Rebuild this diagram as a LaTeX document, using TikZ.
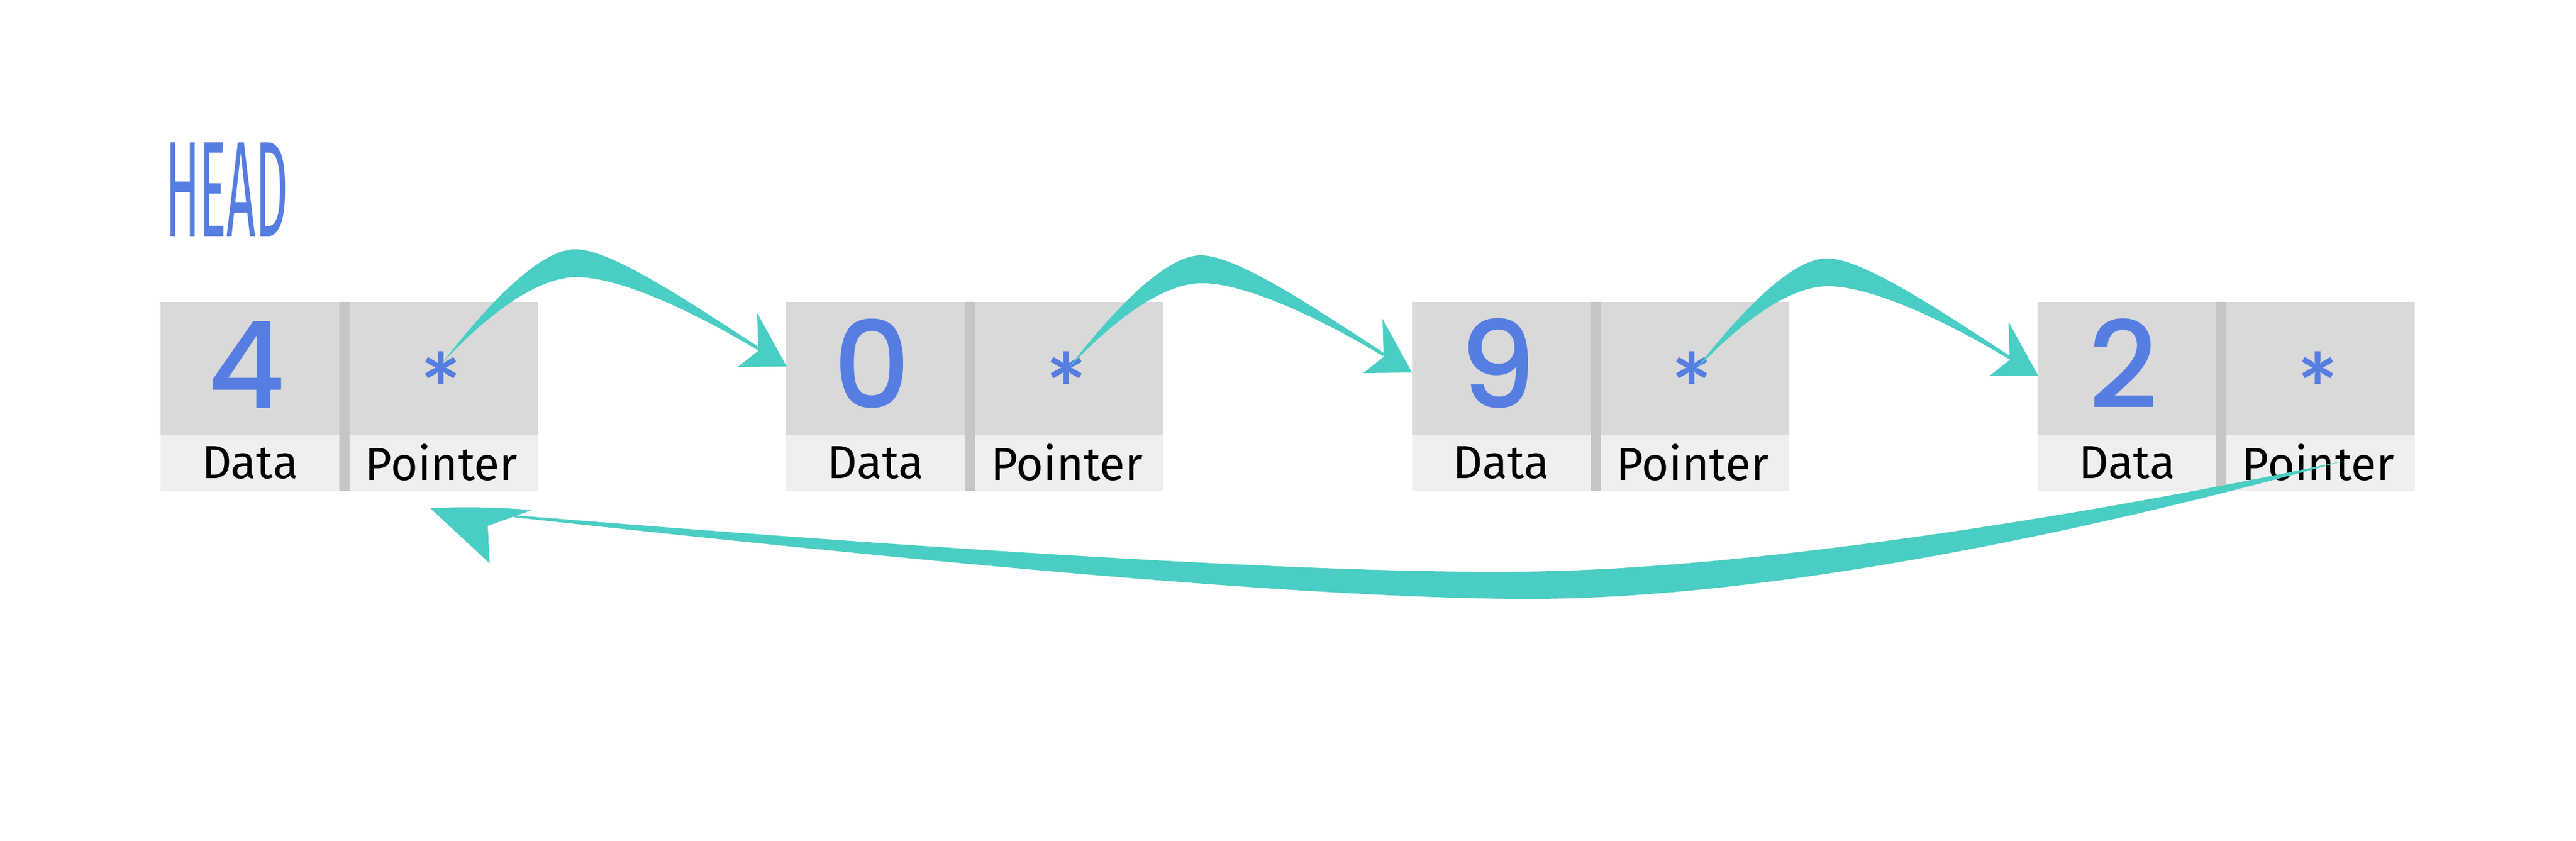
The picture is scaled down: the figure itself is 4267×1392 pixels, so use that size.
\documentclass[tikz,border=0pt]{standalone}
\usepackage{fontspec}
\setmainfont{Fira Sans}
\newfontfamily\digfont{Poppins Medium}
\newfontfamily\headfont{Fira Sans}
\newfontfamily\astfont{Lato}
\definecolor{cellgray}{RGB}{217,217,217}
\definecolor{celllight}{RGB}{239,239,239}
\definecolor{sepgray}{RGB}{198,198,198}
\definecolor{numblue}{RGB}{86,125,225}
\definecolor{arrowteal}{RGB}{74,205,196}
\tikzset{
  cellbox/.style={draw=none, inner sep=0pt, outer sep=0pt, anchor=north west},
  celltop/.style={cellbox, fill=cellgray, minimum height=221pt},
  cellbot/.style={cellbox, fill=celllight, minimum height=92pt},
  sepbar/.style={cellbox, fill=sepgray, minimum width=17pt, minimum height=313pt},
  digit/.style={inner sep=0pt, anchor=base, text=numblue, font=\digfont\fontsize{200}{200}\selectfont},
  lbl/.style={inner sep=0pt, anchor=base, text=black, font=\fontsize{77}{77}\selectfont},
  ast/.style={inner sep=0pt, anchor=base, text=numblue, font=\astfont\bfseries\fontsize{160}{160}\selectfont},
  linkfill/.style={fill=arrowteal, draw=none}
}
\newcommand\linkarrow[1]{%
  \fill[linkfill, shift={(#1)}] (0,0) .. controls (70,-90) and (160,-190) .. (222,-190)
     .. controls (280,-190) and (400,-110) .. (526,-28) -- (524,-23)
     .. controls (430,-80) and (300,-144) .. (224,-144)
     .. controls (150,-144) and (60,-65) .. (0,0) -- cycle;
  \fill[linkfill, shift={(#1)}] (523,-85) -- (572,4) -- (491,5) -- (525,-22) -- cycle;
}
\begin{document}
\begin{tikzpicture}[x=1pt,y=-1pt]
\useasboundingbox (0,0) rectangle (4267,1392);
\fill[white] (0,0) rectangle (4267,1392);

\node[inner sep=0pt, anchor=north west, text=numblue] (head) at (274,236)
  {\resizebox{203pt}{155pt}{\headfont HEAD}};

\foreach \i/\lx/\val in {1/266/4, 2/1302.3/0, 3/2338.6/9, 4/3375/2}{
  \node[celltop, minimum width=296pt] (d\i) at (\lx,500) {};
  \node[cellbot, minimum width=296pt] (dl\i) at (\lx,721) {};
  \node[sepbar] (s\i) at ({\lx+296},500) {};
  \node[celltop, minimum width=312pt] (p\i) at ({\lx+313},500) {};
  \node[cellbot, minimum width=312pt] (pl\i) at ({\lx+313},721) {};
  \node[digit] (n\i) at ({\lx+142},676) {\val};
  \node[lbl] (dt\i) at ({\lx+148},792) {Data};
  \node[lbl] (pt\i) at ({\lx+465},795) {Pointer};
  \node[ast] (a\i) at ({\lx+464},703) {*};
}

\coordinate (tail1) at (731,603);
\coordinate (tail2) at (1767,613);
\coordinate (tail3) at (2804,618);
\linkarrow{tail1}
\linkarrow{tail2}
\linkarrow{tail3}

% return arrow from last pointer to first pointer
\coordinate (tailR) at (3880,764);
\coordinate (tipR) at (713,842);
\fill[linkfill] (tailR) .. controls (3500,845) and (2900,947) .. (2500,947)
   .. controls (2100,950) and (1300,890) .. (847,853) -- (853,857)
   .. controls (1300,905) and (2100,992) .. (2533,992)
   .. controls (2950,992) and (3500,870) .. (tailR) -- cycle;
\fill[linkfill] (tipR) .. controls (760,839) and (830,840) .. (880,845)
   -- (808,871) -- (811,933) -- cycle;
\end{tikzpicture}
\end{document}
